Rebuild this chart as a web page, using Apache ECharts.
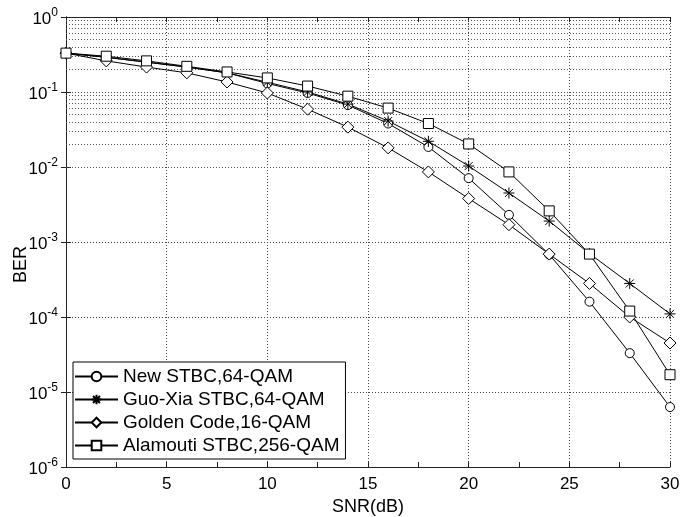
<!DOCTYPE html>
<html>
<head>
<meta charset="utf-8">
<script src="https://cdn.jsdelivr.net/npm/echarts@6/dist/echarts.min.js"></script>
<style>html,body{margin:0;padding:0;background:#fff}#c{width:694px;height:517px}</style>
</head>
<body>
<div id="c"></div>
<script>
const snr = [0, 2, 4, 6, 8, 10, 12, 14, 16, 18, 20, 22, 24, 26, 28, 30];
const newSTBC = [0.33, 0.29, 0.25, 0.215, 0.18, 0.13, 0.097, 0.067, 0.038, 0.0185, 0.0071, 0.0023, 0.00068, 1.6e-4, 3.3e-5, 6.3e-6];
const guoXia = [0.33, 0.29, 0.25, 0.215, 0.18, 0.135, 0.1, 0.069, 0.041, 0.022, 0.0103, 0.0045, 0.0019, 0.0007, 2.8e-4, 1.1e-4];
const golden = [0.33, 0.26, 0.215, 0.18, 0.136, 0.097, 0.059, 0.034, 0.018, 0.0086, 0.0038, 0.0017, 0.00069, 2.8e-4, 1.0e-4, 4.5e-5];
const alamouti = [0.33, 0.30, 0.26, 0.22, 0.185, 0.154, 0.12, 0.088, 0.061, 0.038, 0.0203, 0.0086, 0.0026, 0.00069, 1.2e-4, 1.7e-5];
const seriesNames = ['New STBC,64-QAM', 'Guo-Xia STBC,64-QAM', 'Golden Code,16-QAM', 'Alamouti STBC,256-QAM'];
const xTicks = [0, 5, 10, 15, 20, 25, 30];

const FONT = 'Liberation Sans, Arial, sans-serif';
const starPath = 'path://M0,-5L0,5M-5,0L5,0M-3.6,-3.6L3.6,3.6M-3.6,3.6L3.6,-3.6';

// minor log grid positions (2..9 x 10^k)
const minorLines = [];
for (let k = -6; k < 0; k++) {
  for (let m = 2; m <= 9; m++) minorLines.push({ yAxis: m * Math.pow(10, k) });
}

function pair(arr) { return snr.map((x, i) => [x, arr[i]]); }

function mkSeries(name, data, symbol, size) {
  return {
    name, type: 'line', data: pair(data), symbol, symbolSize: size,
    showAllSymbol: true,
    lineStyle: { color: '#000', width: 1 },
    itemStyle: { color: '#fff', borderColor: '#000', borderWidth: 1 },
    emphasis: { disabled: true },
    z: 5
  };
}

const chart = echarts.init(document.getElementById('c'), null, { renderer: 'canvas' });
chart.setOption({
  animation: false,
  backgroundColor: '#fff',
  grid: { left: 66, top: 17, right: 24, bottom: 50, containLabel: false, outerBoundsMode: 'none' },
  xAxis: [{
    type: 'value', min: 0, max: 30, interval: 5,
    name: 'SNR(dB)', nameLocation: 'middle', nameGap: 29,
    nameTextStyle: { fontFamily: FONT, fontSize: 18, color: '#000' },
    axisLine: { lineStyle: { color: '#222', width: 1 } },
    axisTick: { inside: true, length: 5, lineStyle: { color: '#222' } },
    minorTick: { show: true, splitNumber: 2, length: 5, lineStyle: { color: '#222' } },
    axisLabel: {
      fontFamily: FONT, fontSize: 17, color: '#000', margin: 9,
      formatter: v => (xTicks.indexOf(v) >= 0 ? String(v) : '')
    },
    splitLine: { show: true, lineStyle: { color: '#444', type: [1, 2], width: 1 } }
  }, {
    type: 'value', min: 0, max: 30, interval: 5, position: 'top',
    axisLine: { show: true, lineStyle: { color: '#222', width: 1 } },
    axisTick: { inside: true, length: 5, lineStyle: { color: '#222' } },
    minorTick: { show: true, splitNumber: 2, length: 5, lineStyle: { color: '#222' } },
    axisLabel: { show: false }, splitLine: { show: false }
  }],
  yAxis: [{
    type: 'log', logBase: 10, min: 1e-6, max: 1,
    axisLine: { show: true, lineStyle: { color: '#222', width: 1 } },
    axisTick: { inside: true, length: 5, lineStyle: { color: '#222' } },
    axisLabel: {
      margin: 8,
      formatter: v => '{b|10}{s|' + Math.round(Math.log10(v)) + '}',
      rich: {
        b: { fontFamily: FONT, fontSize: 17, color: '#000', padding: [5, 0, 0, 0] },
        s: { fontFamily: FONT, fontSize: 12, color: '#000', padding: [0, 0, 8, 0] }
      }
    },
    splitLine: { show: true, lineStyle: { color: '#444', type: [1, 2], width: 1 } }
  }, {
    type: 'log', logBase: 10, min: 1e-6, max: 1, position: 'right',
    axisLine: { show: true, lineStyle: { color: '#222', width: 1 } },
    axisTick: { inside: true, length: 5, lineStyle: { color: '#222' } },
    axisLabel: { show: false }, splitLine: { show: false }
  }],
  legend: {
    orient: 'vertical', left: 73, top: 362,
    data: seriesNames,
    backgroundColor: '#fff', borderColor: '#000', borderWidth: 1,
    padding: [5, 6, 4, 1],
    itemWidth: 43, itemHeight: 12, itemGap: 4,
    textStyle: { fontFamily: FONT, fontSize: 19, color: '#000', lineHeight: 19 },
    selectedMode: false
  },
  graphic: [{
    type: 'text', left: 12, top: 246, rotation: Math.PI / 2,
    style: { text: 'BER', fontFamily: FONT, fontSize: 18, fill: '#000' }
  }],
  series: [
    {
      type: 'line', data: [], silent: true,
      markLine: {
        silent: true, symbol: 'none', label: { show: false },
        lineStyle: { color: '#555', type: [1, 2], width: 1 },
        data: minorLines, animation: false
      }
    },
    mkSeries(seriesNames[0], newSTBC, 'circle', 9),
    mkSeries(seriesNames[1], guoXia, starPath, 11),
    mkSeries(seriesNames[2], golden, 'diamond', 12),
    mkSeries(seriesNames[3], alamouti, 'rect', 10)
  ]
});
</script>
</body>
</html>
